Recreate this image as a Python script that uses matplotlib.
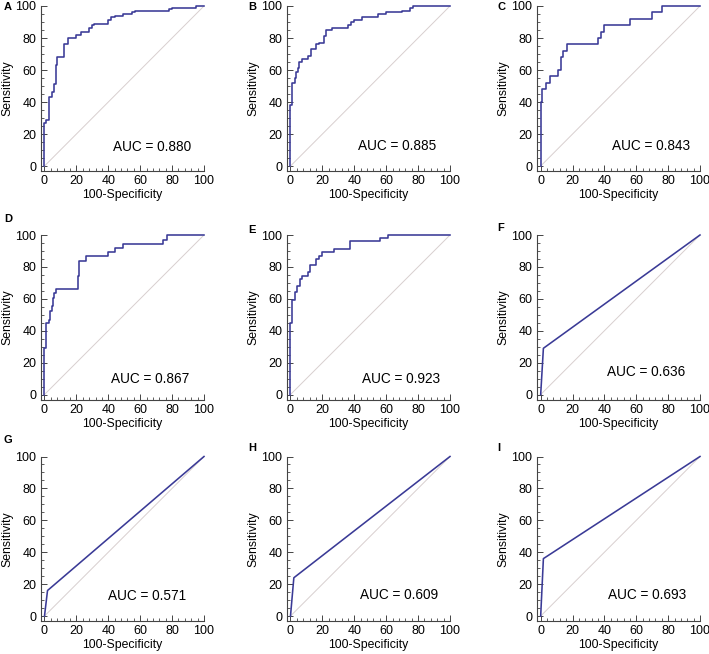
import matplotlib
matplotlib.use('Agg')
import matplotlib.pyplot as plt
from matplotlib.ticker import MultipleLocator

plt.rcParams['font.family'] = ['Liberation Sans', 'DejaVu Sans']

# ROC vertices (100-Specificity, Sensitivity)
A_fpr = [0, 0, 1, 3, 4.5, 6, 7.5, 8, 12, 15, 19.5, 23, 28, 30, 31, 40, 42, 44, 49, 55, 57, 78, 80, 95, 100]
A_tpr = [0, 27, 29, 43, 46, 51, 63, 68, 76, 80, 82, 84, 86, 88, 89, 91, 93, 94, 95, 96, 97, 98, 99, 100, 100]

B_fpr = [0, 0, 0.8, 2.7, 3.5, 4.8, 5.5, 7, 11, 13, 16, 18, 21, 22, 26, 36, 38, 40, 45, 55, 60, 70, 75, 77, 100]
B_tpr = [0, 38, 52, 55, 59, 61, 65, 67, 69, 73, 76, 77, 81, 85, 86, 88, 90, 91.5, 93, 95, 96, 97, 98.5, 100, 100]

C_fpr = [0, 0, 0.8, 3.3, 5.9, 11, 12.8, 14, 16.3, 36, 38, 40, 56, 70, 76, 100]
C_tpr = [0, 40, 48, 52, 56, 60, 68, 72, 76, 80, 84, 88, 92, 96, 100, 100]

D_fpr = [0, 0, 0.8, 2.9, 3.5, 4.5, 5.5, 6, 7, 21, 21.8, 26, 40, 44, 49, 74.5, 77, 100]
D_tpr = [0, 29, 45, 47, 52.5, 55.5, 60.5, 63.5, 66, 74, 84, 87, 89.5, 92, 94.5, 97, 100, 100]

E_fpr = [0, 0, 1, 3, 4, 5.8, 7, 11, 12.5, 16.3, 18, 20, 27, 37.5, 56, 61, 100]
E_tpr = [0, 45, 59.5, 64, 68, 72.5, 74.5, 77, 81, 85, 87, 89.5, 91.5, 96, 98, 100, 100]

F_fpr = [0, 1.7, 100]
F_tpr = [0, 29, 100]
G_fpr = [0, 1.9, 100]
G_tpr = [0, 16, 100]
H_fpr = [0, 2.1, 100]
H_tpr = [0, 24, 100]
I_fpr = [0, 1.7, 100]
I_tpr = [0, 36, 100]

letters = ['A', 'B', 'C', 'D', 'E', 'F', 'G', 'H', 'I']
fprs = [A_fpr, B_fpr, C_fpr, D_fpr, E_fpr, F_fpr, G_fpr, H_fpr, I_fpr]
tprs = [A_tpr, B_tpr, C_tpr, D_tpr, E_tpr, F_tpr, G_tpr, H_tpr, I_tpr]
aucs = ['0.880', '0.885', '0.843', '0.867', '0.923', '0.636', '0.571', '0.609', '0.693']
stepped = [True, True, True, True, True, False, False, False, False]

# label spots (data coords) and panel letter spots (pixels)
auc_xy = [(43, 12), (42.3, 12.5), (45, 12.7), (41.7, 9.5), (44.6, 9.5),
          (41.4, 14.3), (39.6, 12.5), (43.6, 13.2), (42.4, 13.2)]
letter_px = [(4, 7), (248, 7), (497, 7), (4, 219), (248, 230), (497, 228),
             (4, 440), (248, 448), (497, 448)]

W, H = 709, 654
fig = plt.figure(figsize=(W / 100, H / 100), dpi=100)

cols = [(40.5, 204), (286.5, 450), (536.7, 700)]
rows = [(6, 171), (235, 399.5), (456.5, 621)]

curve_col = '#3a3a96'
diag_col = '#d8cfcf'

for i in range(9):
    l, r = cols[i % 3]
    t, b = rows[i // 3]
    ax = fig.add_axes([l / W, 1 - b / H, (r - l) / W, (b - t) / H])
    ax.plot([0, 100], [0, 100], color=diag_col, lw=0.7)
    ax.plot(fprs[i], tprs[i], color=curve_col, lw=1.15,
            drawstyle='steps-post' if stepped[i] else 'default', clip_on=False)
    ax.set_xlim(-2.5, 100)
    ax.set_ylim(-3.1, 100)
    ax.spines['top'].set_visible(False)
    ax.spines['right'].set_visible(False)
    for s in ['left', 'bottom']:
        ax.spines[s].set_color('#444444')
        ax.spines[s].set_linewidth(0.8)
    ax.xaxis.set_major_locator(MultipleLocator(20))
    ax.xaxis.set_minor_locator(MultipleLocator(4))
    ax.yaxis.set_major_locator(MultipleLocator(20))
    ax.yaxis.set_minor_locator(MultipleLocator(5))
    ax.tick_params(which='both', direction='in', color='#444444', labelsize=9, pad=3)
    ax.tick_params(which='major', length=4, width=0.7)
    ax.tick_params(which='minor', length=2, width=0.6)
    ax.set_xlabel('100-Specificity', fontsize=8.8, labelpad=1.5)
    ax.set_ylabel('Sensitivity', fontsize=8.8, labelpad=1.5)
    ax.text(auc_xy[i][0], auc_xy[i][1], 'AUC = ' + aucs[i], fontsize=9.8,
            ha='left', va='center')
    fig.text(letter_px[i][0] / W, 1 - letter_px[i][1] / H, letters[i],
             fontsize=8, fontweight='bold', ha='left', va='center')

fig.savefig('out.png', dpi=100)
